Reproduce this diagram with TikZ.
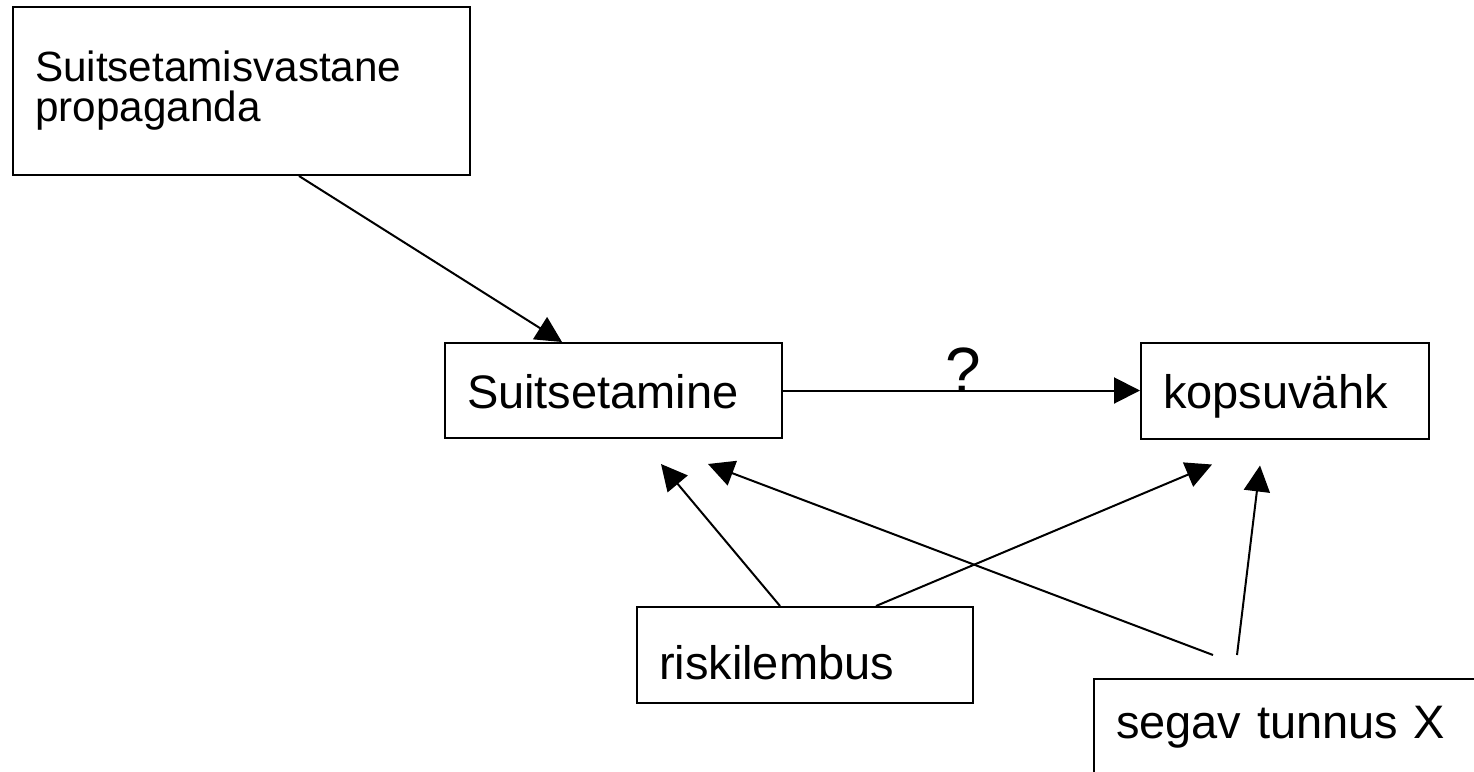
\documentclass[tikz,border=0pt]{standalone}
\usepackage{fontspec}
\setmainfont{Liberation Sans}
\usetikzlibrary{arrows.meta,calc}

\newcommand\boxfont{\fontsize{35.25pt}{40pt}\selectfont}
\newcommand\propfont{\fontsize{31.7pt}{30pt}\selectfont}
\newcommand\qfont{\fontsize{48pt}{50pt}\selectfont}

\tikzset{
  stage/.style={draw, line width=1.5pt, rectangle, align=left,
    inner xsep=16.5pt, inner ysep=0pt, font=\boxfont,
    text height=26.25pt, text depth=0pt},
  link/.style={line width=1.5pt, -{Triangle[length=19.5pt,width=19.5pt]}}
}

\begin{document}
\begin{tikzpicture}[x=0.75pt, y=-0.75pt]
  \clip (0,0) rectangle (1474,771);
  \fill[white] (0,0) rectangle (1474,771);

  % boxes
  \node[draw, line width=1.5pt, rectangle, align=left, font=\propfont,
        inner xsep=16.5pt, inner ysep=0pt,
        text width=309.75pt, minimum height=126pt]
        (prop) at (241.5,91) {Suitsetamisvastane\\propaganda};
  \node[stage, text width=219.75pt, minimum height=71.25pt]
        (smok) at (613.5,390.5) {Suitsetamine};
  \node[stage, text width=183pt, minimum height=72pt]
        (lung) at (1285,390.5) {kopsuvähk};
  \node[stage, text width=219pt, minimum height=72pt, text height=37pt]
        (risk) at (805,655) {riskilembus};
  \node[stage, anchor=north west, text width=280pt, inner ysep=18.75pt,
        text height=25.5pt, text depth=40pt]
        (segav) at (1093,678) {segav tunnus X};

  % free ends of the confounder arrows
  \coordinate (xa) at ($(segav.north west)+(120,-23)$);
  \coordinate (xb) at ($(segav.north west)+(144,-23)$);

  % connectors
  \draw[link] ($(prop.south west)+(287,0)$) -- ($(smok.north west)+(118,0)$);
  \draw[link] (smok.east) -- (lung.west);
  \node[font=\qfont, anchor=base, inner sep=0pt] (q) at (963.5,392) {?};
  \draw[link] ($(risk.north west)+(144,0)$) -- ($(smok.south west)+(217,25)$);
  \draw[link] ($(risk.north west)+(240,0)$) -- ($(lung.south west)+(72,25)$);
  \draw[link] (xa) -- ($(smok.south west)+(264,25)$);
  \draw[link] (xb) -- ($(lung.south west)+(120,26)$);
\end{tikzpicture}
\end{document}
